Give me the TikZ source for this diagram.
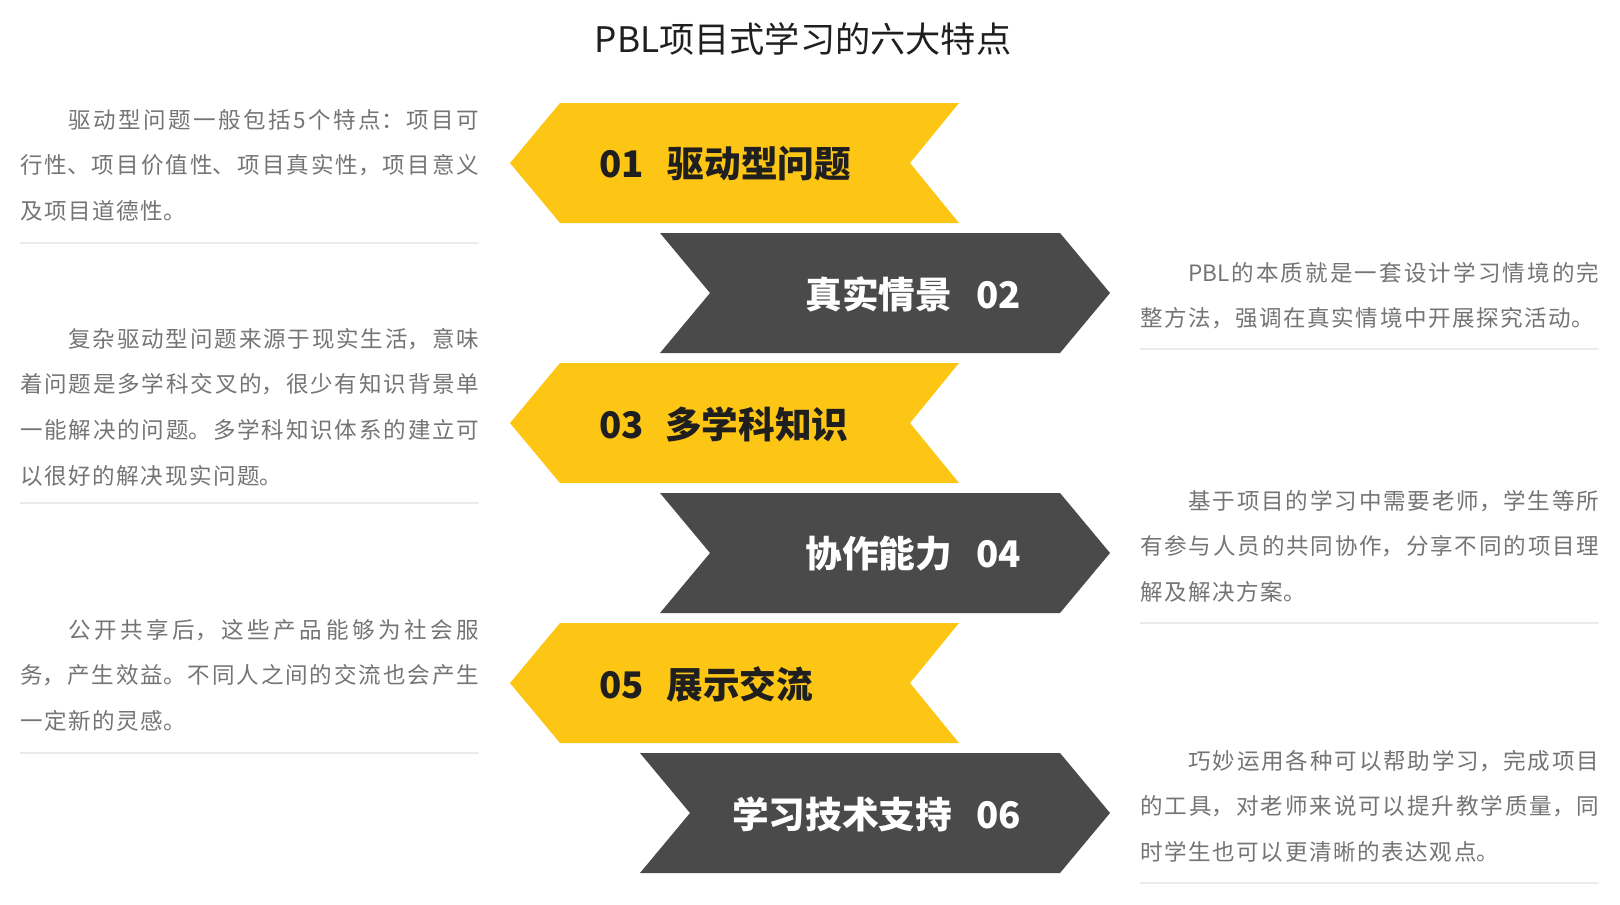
\documentclass[tikz,border=0pt]{standalone}
\usepackage{fontspec}
\setmainfont{Noto Sans CJK SC}
\definecolor{pblyellow}{HTML}{FDC514}
\definecolor{pbldark}{HTML}{4A4A4A}
\definecolor{bodygray}{HTML}{747474}
\definecolor{rulegray}{HTML}{EBEBEB}
\newcommand\bodyfont{\fontsize{16.9pt}{34.3pt}\selectfont\XeTeXlinebreaklocale "zh"\XeTeXlinebreakskip=1.2pt plus 1pt\relax}
\newcommand\lblfont{\fontsize{27.5pt}{30pt}\selectfont\bfseries}
\tikzset{
  yel/.style={fill=pblyellow},
  drk/.style={fill=pbldark},
  lblyel/.style={anchor=west, inner sep=0pt, font=\lblfont, text=black!88},
  lbldrk/.style={anchor=east, inner sep=0pt, font=\lblfont, text=white},
  para/.style={anchor=base west, inner sep=0pt, text width=344.25pt, align=justify, font=\bodyfont, text=bodygray},
  sep/.style={draw=rulegray, line width=1.5pt},
}
\begin{document}
\begin{tikzpicture}[x=0.75pt, y=-0.75pt]
        \useasboundingbox (0,0) rectangle (1620,904);
        \node[font=\fontsize{26.4pt}{30pt}\selectfont, text=black!88] (title) at (803,39) {PBL项目式学习的六大特点};
        
        % yellow chevrons, pointing left
        \fill[yel] (959,103) -- (560,103) -- (510,163) -- (560,223) -- (959,223) -- (910,163) -- cycle;
        \fill[yel] (959,363) -- (560,363) -- (510,423) -- (560,483) -- (959,483) -- (910,423) -- cycle;
        \fill[yel] (959,623) -- (560,623) -- (510,683) -- (560,743) -- (959,743) -- (910,683) -- cycle;
        
        % dark chevrons, pointing right
        \fill[drk] (660,233) -- (1060,233) -- (1110,293) -- (1060,353) -- (660,353) -- (710,293) -- cycle;
        \fill[drk] (660,493) -- (1060,493) -- (1110,553) -- (1060,613) -- (660,613) -- (710,553) -- cycle;
        \fill[drk] (640,753) -- (1060,753) -- (1110,813) -- (1060,873) -- (640,873) -- (690,813) -- cycle;
        
        \node[lblyel] (l01) at (599,164) {01\hspace{18pt}驱动型问题};
        \node[lbldrk] (l02) at (1021,294) {真实情景\hspace{18pt}02};
        \node[lblyel] (l03) at (599,424) {03\hspace{16pt}多学科知识};
        \node[lbldrk] (l04) at (1021,554) {协作能力\hspace{18pt}04};
        \node[lblyel] (l05) at (599,684) {05\hspace{17pt}展示交流};
        \node[lbldrk] (l06) at (1021,814) {学习技术支持\hspace{18pt}06};
        
        % left column
        \node[para] (p01) at (20,128) {\hspace*{36pt}驱动型问题一般包括5个特点：项目可\linebreak 行性、项目价值性、项目真实性，项目意义\linebreak 及项目道德性。};
        \draw[sep] (20,243) -- (479,243);
        \node[para] (p03) at (20,347) {\hspace*{36pt}复杂驱动型问题来源于现实生活，意味\linebreak 着问题是多学科交叉的，很少有知识背景单\linebreak 一能解决的问题。多学科知识体系的建立可\linebreak 以很好的解决现实问题。};
        \draw[sep] (20,503) -- (479,503);
        \node[para] (p05) at (20,638) {\hspace*{36pt}公开共享后，这些产品能够为社会服\linebreak 务，产生效益。不同人之间的交流也会产生\linebreak 一定新的灵感。};
        \draw[sep] (20,753) -- (479,753);
        
        % right column
        \node[para] (p02) at (1140,281) {\hspace*{36pt}PBL的本质就是一套设计学习情境的完\linebreak 整方法，强调在真实情境中开展探究活动。};
        \draw[sep] (1140,349) -- (1599,349);
        \node[para] (p04) at (1140,509) {\hspace*{36pt}基于项目的学习中需要老师，学生等所\linebreak 有参与人员的共同协作，分享不同的项目理\linebreak 解及解决方案。};
        \draw[sep] (1140,623) -- (1599,623);
        \node[para] (p06) at (1140,769) {\hspace*{36pt}巧妙运用各种可以帮助学习，完成项目\linebreak 的工具，对老师来说可以提升教学质量，同\linebreak 时学生也可以更清晰的表达观点。};
        \draw[sep] (1140,883) -- (1599,883);
    \end{tikzpicture}
\end{document}
